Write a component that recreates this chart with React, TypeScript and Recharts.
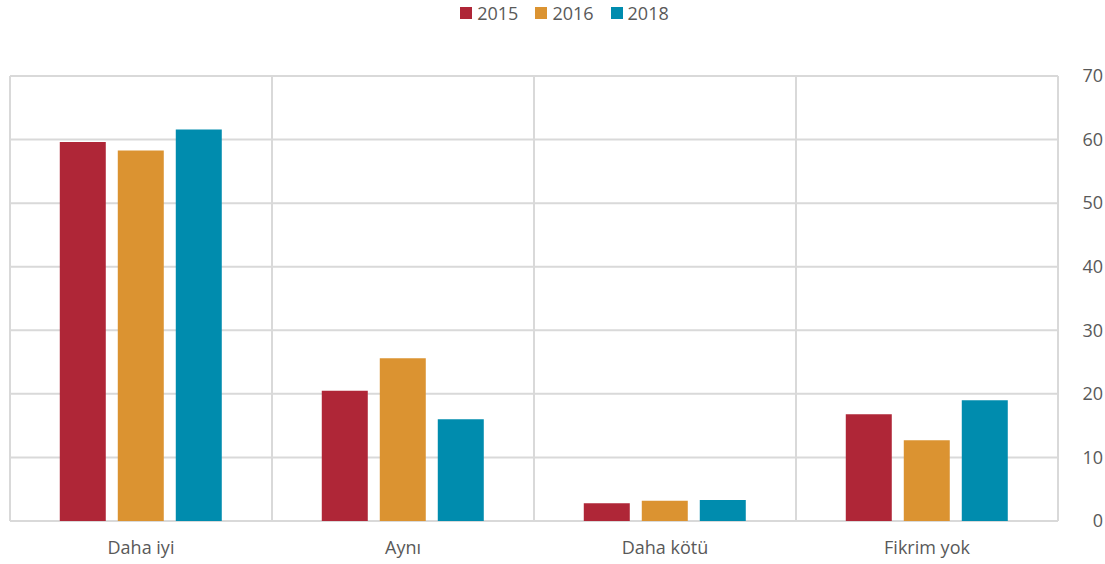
import {
  Bar,
  BarChart,
  CartesianGrid,
  Legend,
  ReferenceLine,
  XAxis,
  YAxis,
} from "recharts";

const categories = ["Daha iyi", "Aynı", "Daha kötü", "Fikrim yok"];
const values2015 = [59.6, 20.5, 2.8, 16.8];
const values2016 = [58.3, 25.6, 3.2, 12.7];
const values2018 = [61.6, 16.0, 3.3, 19.0];
const yTicks = [0, 10, 20, 30, 40, 50, 60, 70];

const SERIES = [
  { key: "2015", color: "#AF2637" },
  { key: "2016", color: "#DB9331" },
  { key: "2018", color: "#008CAE" },
];

const FONT = "'Open Sans', 'Noto Sans', sans-serif";
const TEXT = "#595959";
const GRID = "#D9D9D9";

const data = categories.map((name, i) => ({
  name,
  pos: i + 0.5,
  "2015": values2015[i],
  "2016": values2016[i],
  "2018": values2018[i],
}));

// category boundaries, used for the vertical grid lines
const boundaries = categories.map((_, i) => i).concat(categories.length);

function RightTick({ x, y, payload }: any) {
  return (
    <text x={x + 37} y={y} dy="0.35em" textAnchor="end" fill={TEXT} fontSize={18} fontFamily={FONT}>
      {payload.value}
    </text>
  );
}

function BoundaryTick({ x, y }: any) {
  return <line x1={x} x2={x} y1={y} y2={y + 8} stroke={GRID} strokeWidth={2} />;
}

function LegendRow() {
  return (
    <div
      style={{
        display: "flex",
        justifyContent: "center",
        gap: 17,
        paddingLeft: 14,
        fontFamily: FONT,
        fontSize: 18,
        color: TEXT,
      }}
    >
      {SERIES.map((s) => (
        <span key={s.key} style={{ display: "flex", alignItems: "center", gap: 5 }}>
          <span style={{ width: 12, height: 12, background: s.color, display: "inline-block" }} />
          {s.key}
        </span>
      ))}
    </div>
  );
}

export default function App() {
  return (
    <div style={{ position: "absolute", left: 0, top: 0, background: "#fff" }}>
      <BarChart
        width={1105}
        height={564}
        data={data}
        margin={{ top: 52, right: 0, bottom: 0, left: 10 }}
        barCategoryGap="19%"
        barGap={12}
      >
        <CartesianGrid stroke={GRID} strokeWidth={2} vertical={false} />
        <XAxis
          xAxisId="grid"
          dataKey="pos"
          type="number"
          domain={[0, categories.length]}
          ticks={boundaries}
          allowDataOverflow
          height={0}
          tickSize={0}
          tickMargin={0}
          tick={<BoundaryTick />}
          tickLine={false}
          axisLine={false}
        />
        <XAxis
          dataKey="name"
          height={43}
          axisLine={false}
          tickLine={false}
          tickMargin={14}
          tick={{ fill: TEXT, fontSize: 18, fontFamily: FONT }}
        />
        <YAxis
          orientation="right"
          domain={[0, 70]}
          ticks={yTicks}
          width={47}
          axisLine={false}
          tickLine={false}
          tick={<RightTick />}
        />
        {boundaries.map((b) => (
          <ReferenceLine key={b} xAxisId="grid" x={b} stroke={GRID} strokeWidth={2} />
        ))}
        <Legend verticalAlign="top" content={<LegendRow />} wrapperStyle={{ top: 1 }} />
        {SERIES.map((s) => (
          <Bar key={s.key} dataKey={s.key} fill={s.color} isAnimationActive={false} />
        ))}
      </BarChart>
    </div>
  );
}
